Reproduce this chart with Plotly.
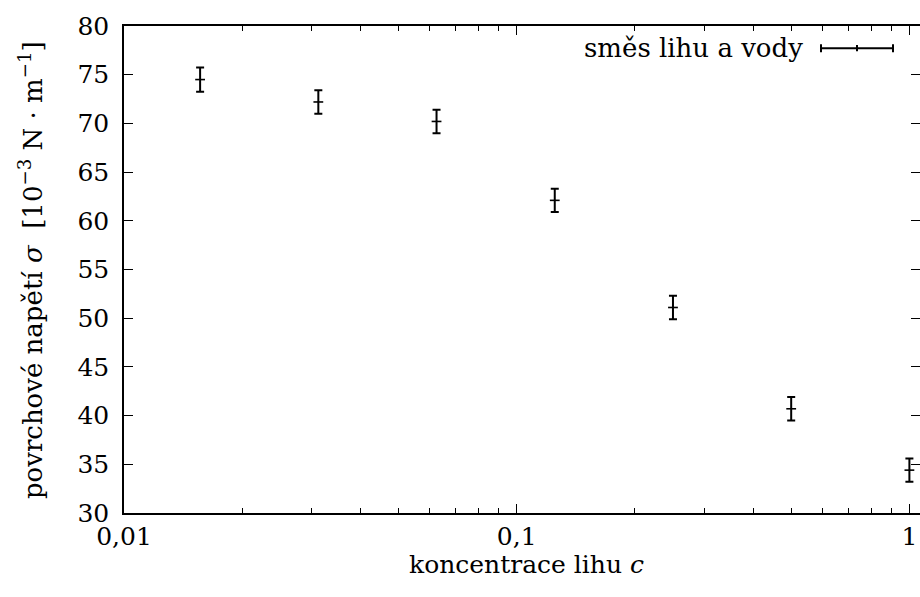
import plotly.graph_objects as go
import numpy as np

# data
concentration = [1/64, 1/32, 1/16, 1/8, 1/4, 1/2, 1.0]
sigma = [74.5, 72.2, 70.2, 62.1, 51.1, 40.7, 34.4]
sigma_err = [1.25, 1.2, 1.2, 1.2, 1.2, 1.2, 1.2]
x_tickvals = [0.01, 0.1, 1]
x_ticktext = ["0,01", "0,1", "1"]
y_tickvals = [30, 35, 40, 45, 50, 55, 60, 65, 70, 75, 80]
series_name = "směs lihu a vody"
x_title = "koncentrace lihu <i>c</i>"
y_title = "povrchové napětí <i>σ</i>  [10<sup>−3</sup> N · m<sup>−1</sup>]"

FONT = "DejaVu Serif"
FS = 25
FS_T = 26

W, H = 920, 597
L, T, R = 124, 25.5, 0
AX_BOTTOM = 513.3
B = H - AX_BOTTOM
pw = W - L - R
ph = H - T - B

def px(xp):
    return (xp - L) / pw

def py(yp):
    return (AX_BOTTOM - yp) / ph

fig = go.Figure()
fig.add_trace(go.Scatter(
    x=concentration, y=sigma, mode="markers", name=series_name,
    marker=dict(symbol="line-ew", size=7, color="black",
                line=dict(color="black", width=1.6)),
    error_y=dict(type="data", array=sigma_err, visible=True,
                 color="black", thickness=2, width=4),
    showlegend=False, cliponaxis=False,
))

fig.update_layout(
    template="none",
    width=W, height=H,
    margin=dict(l=L, r=R, t=T, b=B, pad=0),
    plot_bgcolor="white", paper_bgcolor="white",
    font=dict(family=FONT, size=FS, color="black"),
    xaxis=dict(
        type="log", range=[-2, pw / 392.7 - 2.0],
        automargin=False,
        tickvals=x_tickvals, ticktext=x_ticktext,
        ticks="inside", ticklen=9, tickwidth=1.3, tickcolor="black",
        ticklabelstandoff=0,
        minor=dict(ticks="inside", ticklen=5, tickwidth=1.2, tickcolor="black", dtick="D1"),
        showline=True, linecolor="black", linewidth=1.6, mirror="ticks",
        showgrid=False, zeroline=False,
        tickfont=dict(family=FONT, size=FS),
    ),
    yaxis=dict(
        range=[30, 80], tickvals=y_tickvals,
        automargin=False,
        ticks="inside", ticklen=9, tickwidth=1.3, tickcolor="black",
        ticklabelstandoff=8,
        showline=True, linecolor="black", linewidth=1.6, mirror="ticks",
        showgrid=False, zeroline=False,
        tickfont=dict(family=FONT, size=FS),
    ),
)

# axis titles
fig.add_annotation(text=x_title, xref="paper", yref="paper",
                   x=px(526), y=py(565), xanchor="center", yanchor="middle",
                   showarrow=False, font=dict(family=FONT, size=FS))
fig.add_annotation(text=y_title, xref="paper", yref="paper",
                   x=px(31), y=py(270), xanchor="center", yanchor="middle",
                   textangle=-90, showarrow=False, font=dict(family=FONT, size=FS_T))

# manual legend entry (gnuplot style key)
ly = py(47.7)
fig.add_annotation(text=series_name, xref="paper", yref="paper",
                   x=px(805), y=ly, xanchor="right", yanchor="middle",
                   showarrow=False, font=dict(family=FONT, size=FS_T))
x0, x1, xm = px(821), px(893), px(857)
cap = 4 / ph
for sh in [
    dict(x0=x0, x1=x1, y0=ly, y1=ly),
    dict(x0=x0, x1=x0, y0=ly - cap, y1=ly + cap),
    dict(x0=x1, x1=x1, y0=ly - cap, y1=ly + cap),
    dict(x0=xm, x1=xm, y0=ly - cap * 0.8, y1=ly + cap * 0.8),
]:
    fig.add_shape(type="line", xref="paper", yref="paper",
                  line=dict(color="black", width=2), **sh)

fig.write_html(
    "out.html",
    config={"displayModeBar": False},
    post_script=("document.body.style.margin='0';"
                 "document.body.style.overflow='hidden';"
                 "document.documentElement.style.overflow='hidden';"),
)
